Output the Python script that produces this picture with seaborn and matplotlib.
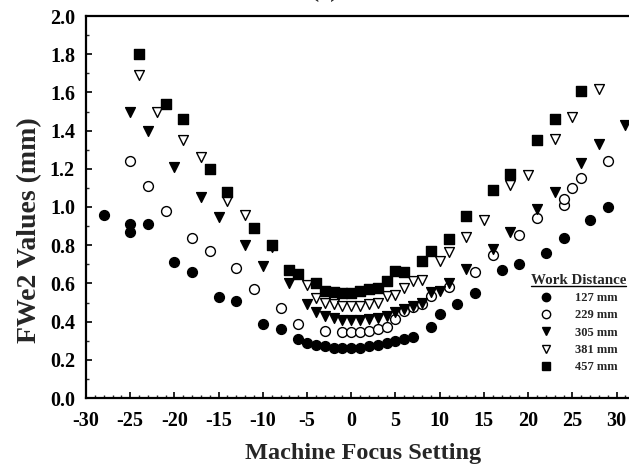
import matplotlib
matplotlib.use("Agg")
import matplotlib.pyplot as plt
from matplotlib.lines import Line2D
from matplotlib.ticker import MultipleLocator
import numpy as np
import pandas as pd
import seaborn as sns

# FWe2 measurements versus machine focus setting, one series per work distance
focus_127 = [-28, -25, -25, -23, -20, -18, -15, -13, -10, -8, -6, -5, -4, -3, -2, -1, 0,
             1, 2, 3, 4, 5, 6, 7, 9, 10, 12, 14, 17, 19, 22, 24, 27, 29]
fwe_127 = [0.96, 0.91, 0.87, 0.91, 0.71, 0.66, 0.53, 0.51, 0.39, 0.36, 0.31, 0.29, 0.28, 0.27,
           0.26, 0.26, 0.26, 0.26, 0.27, 0.28, 0.29, 0.30, 0.31, 0.32, 0.37, 0.44, 0.49, 0.55,
           0.67, 0.70, 0.76, 0.84, 0.93, 1.00]

focus_229 = [-25, -23, -21, -18, -16, -13, -11, -8, -6, -3, -1, 0, 1, 2, 3, 4, 5, 6, 7, 8, 9,
             11, 14, 16, 19, 21, 24, 24, 25, 26, 29]
fwe_229 = [1.24, 1.11, 0.98, 0.84, 0.77, 0.68, 0.57, 0.47, 0.39, 0.35, 0.345, 0.345, 0.345,
           0.35, 0.36, 0.37, 0.415, 0.455, 0.475, 0.49, 0.535, 0.58, 0.66, 0.75, 0.855, 0.94,
           1.01, 1.04, 1.10, 1.15, 1.24]

focus_305 = [-25, -23, -20, -17, -15, -12, -10, -7, -5, -4, -3, -2, -1, 0, 1, 2, 3, 4, 5, 6, 7,
             8, 9, 10, 11, 13, 16, 18, 21, 23, 26, 28, 31]
fwe_305 = [1.50, 1.40, 1.21, 1.05, 0.95, 0.80, 0.69, 0.60, 0.49, 0.45, 0.43, 0.42, 0.41, 0.41,
           0.41, 0.415, 0.42, 0.43, 0.45, 0.465, 0.48, 0.50, 0.555, 0.56, 0.60, 0.675, 0.78,
           0.87, 0.99, 1.08, 1.23, 1.33, 1.43]

focus_381 = [-24, -22, -19, -17, -14, -12, -9, -5, -4, -3, -2, -1, 0, 1, 2, 3, 4, 5, 6, 7, 8,
             10, 11, 13, 15, 18, 20, 23, 25, 28]
fwe_381 = [1.69, 1.50, 1.35, 1.26, 1.03, 0.96, 0.79, 0.59, 0.525, 0.50, 0.49, 0.48, 0.48, 0.48,
           0.49, 0.50, 0.535, 0.54, 0.575, 0.615, 0.62, 0.715, 0.765, 0.845, 0.93, 1.115, 1.17,
           1.355, 1.47, 1.62]

focus_457 = [-24, -21, -19, -16, -14, -11, -9, -7, -6, -4, -3, -2, -1, 0, 1, 2, 3, 4, 5, 6, 8,
             9, 11, 13, 16, 18, 21, 23, 26]
fwe_457 = [1.80, 1.54, 1.46, 1.20, 1.08, 0.89, 0.80, 0.67, 0.65, 0.60, 0.56, 0.555, 0.55, 0.55,
           0.56, 0.57, 0.575, 0.615, 0.665, 0.66, 0.715, 0.77, 0.835, 0.955, 1.09, 1.175, 1.35,
           1.46, 1.605]

series_labels = ["127 mm", "229 mm", "305 mm", "381 mm", "457 mm"]
series_x = [focus_127, focus_229, focus_305, focus_381, focus_457]
series_y = [fwe_127, fwe_229, fwe_305, fwe_381, fwe_457]
series_markers = ["o", "o", "v", "v", "s"]
series_filled = [True, False, True, False, True]

x_ticks = [-30, -25, -20, -15, -10, -5, 0, 5, 10, 15, 20, 25, 30]
y_ticks = [0.0, 0.2, 0.4, 0.6, 0.8, 1.0, 1.2, 1.4, 1.6, 1.8, 2.0]

frames = []
for lab, xs, ys in zip(series_labels, series_x, series_y):
    frames.append(pd.DataFrame({"focus": xs, "fwe2": ys, "distance": lab}))
df = pd.concat(frames, ignore_index=True)

sns.set_theme(style="ticks")
serif = ["Liberation Serif", "DejaVu Serif"]
plt.rcParams["font.family"] = serif
plt.rcParams["font.weight"] = "bold"

W, H = 629, 476
fig = plt.figure(figsize=(W / 100, H / 100), dpi=100)
left_px, right_px, top_px, bottom_px = 86, 640, 16, 398
ax = fig.add_axes([left_px / W, 1 - bottom_px / H,
                   (right_px - left_px) / W, (bottom_px - top_px) / H])

for lab, mk, filled in zip(series_labels, series_markers, series_filled):
    sub = df[df["distance"] == lab]
    size = 50 if mk != "s" else 44
    sns.scatterplot(data=sub, x="focus", y="fwe2", ax=ax, marker=mk, s=size,
                    color="black" if filled else "white",
                    edgecolor="black", linewidth=1.0, legend=False, zorder=3,
                    clip_on=False)

ax.set_xlim(-30, 32.65)
ax.set_ylim(0, 2.0)
ax.set_xticks(x_ticks)
ax.set_yticks(y_ticks)
ax.set_xticklabels([f"{t:d}" for t in x_ticks])
ax.set_yticklabels([f"{t:.1f}" for t in y_ticks])
ax.xaxis.set_minor_locator(MultipleLocator(1))
ax.yaxis.set_minor_locator(MultipleLocator(0.1))

for sp in ["top", "left", "bottom", "right"]:
    ax.spines[sp].set_linewidth(1.6)
    ax.spines[sp].set_color("black")

ax.tick_params(axis="both", which="major", direction="in", length=4.5, width=1.2,
               labelsize=14.5, colors="black")
ax.tick_params(axis="both", which="minor", direction="in", length=2.2, width=1.0)
ax.tick_params(axis="x", which="major", pad=9)
ax.tick_params(axis="y", which="major", pad=8)
for t in ax.get_xticklabels() + ax.get_yticklabels():
    t.set_fontweight("bold")

ax_w = right_px - left_px
ax_h = bottom_px - top_px
ax.set_xlabel("Machine Focus Setting", fontsize=17.5, fontweight="bold", va="center")
ax.xaxis.set_label_coords((363 - left_px) / ax_w, (bottom_px - 453) / ax_h)
ax.set_ylabel("FWe2 Values (mm)", fontsize=20, fontweight="bold", va="center")
ax.yaxis.set_label_coords((30 - left_px) / ax_w, (bottom_px - 230) / ax_h)

fig.text(325 / W, 1 + 3 / H, "(a)", ha="center", va="baseline",
         fontsize=17.5, fontweight="bold")

handles = []
for lab, mk, filled in zip(series_labels, series_markers, series_filled):
    handles.append(Line2D([], [], linestyle="none", marker=mk, markersize=6 if mk != "s" else 5.5,
                          markerfacecolor="black" if filled else "white",
                          markeredgecolor="black", markeredgewidth=1.0, label=lab))
leg = ax.legend(handles=handles, title="Work Distance", loc="upper left",
                bbox_to_anchor=(531 / W, 1 - 274 / H), bbox_transform=fig.transFigure,
                frameon=False, borderpad=0, borderaxespad=0, handlelength=1.0,
                handletextpad=1.75, labelspacing=0.42,
                prop={"family": serif, "weight": "bold", "size": 9})
leg.get_title().set_fontsize(10.8)
leg.get_title().set_fontweight("bold")

# underline the legend heading
fig.canvas.draw()
bb = leg.get_title().get_window_extent()
inv = fig.transFigure.inverted()
(x0, y0), (x1, _) = inv.transform([[bb.x0, bb.y0 + 1.5], [bb.x1, bb.y0]])
fig.add_artist(Line2D([x0, x1], [y0, y0], transform=fig.transFigure, color="black", lw=1.0))

fig.savefig("out.png", dpi=100)
